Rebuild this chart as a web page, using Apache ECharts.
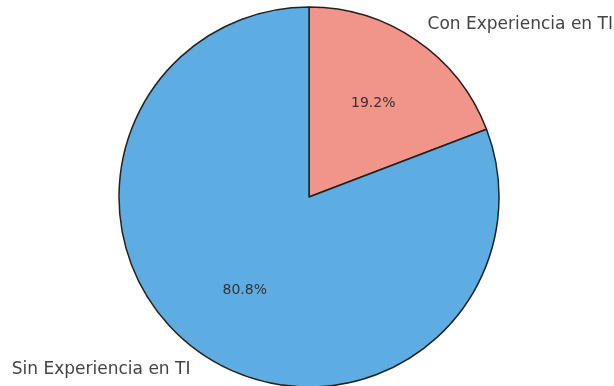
<!DOCTYPE html>
<html>
<head>
<meta charset="utf-8">
<script src="https://cdn.jsdelivr.net/npm/echarts@6/dist/echarts.min.js"></script>
<style>
  html, body { margin: 0; padding: 0; background: #fff; }
  #chart { width: 614px; height: 386px; }
</style>
</head>
<body>
<div id="chart"></div>
<script>
// Share of respondents by prior IT experience
const categories = ['Con Experiencia en TI', 'Sin Experiencia en TI'];
const shares = [19.2, 80.8];
const colors = ['#F1948A', '#5DADE2'];

const R = 190;
const center = [309, 197];

const sliceData = categories.map((name, i) => ({
  name: name,
  value: shares[i],
  itemStyle: { color: colors[i] }
}));

const chart = echarts.init(document.getElementById('chart'), null, { renderer: 'canvas' });
chart.setOption({
  animation: false,
  series: [
    {
      // slices with the category names outside
      type: 'pie',
      center: center,
      radius: [0, R],
      startAngle: 90,
      clockwise: true,
      avoidLabelOverlap: false,
      data: sliceData,
      itemStyle: { borderColor: '#222', borderWidth: 1.5 },
      label: {
        show: true,
        position: 'outside',
        formatter: '{b}',
        fontFamily: 'DejaVu Sans',
        fontSize: 17,
        color: '#444',
        distanceToLabelLine: 0
      },
      labelLine: { show: false, length: 19, length2: 0 },
      emphasis: { disabled: true }
    },
    {
      // transparent ring used to place the percentages near 0.6 R
      type: 'pie',
      center: center,
      radius: [0, R * 1.16],
      startAngle: 90,
      clockwise: true,
      silent: true,
      data: categories.map((name, i) => ({ name: name, value: shares[i] })),
      itemStyle: { color: 'rgba(0,0,0,0)', borderWidth: 0 },
      label: {
        show: true,
        position: 'inside',
        formatter: p => p.value.toFixed(1) + '%',
        fontFamily: 'DejaVu Sans',
        fontSize: 14,
        color: '#333'
      },
      labelLine: { show: false },
      emphasis: { disabled: true },
      z: 3
    }
  ]
});
</script>
</body>
</html>
